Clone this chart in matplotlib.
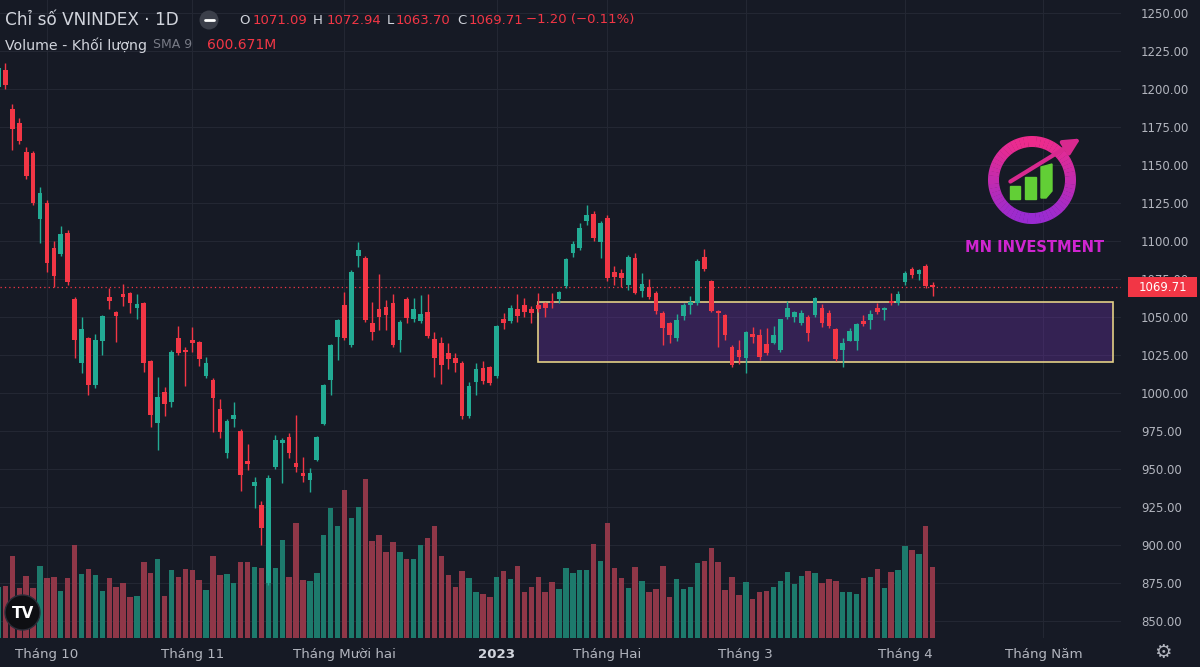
import numpy as np
import matplotlib.pyplot as plt
from matplotlib.patches import Rectangle, Circle, Wedge, Polygon
from matplotlib.transforms import Affine2D, blended_transform_factory

# OHLC theo phiên (22/09/2022 -> 07/04/2023)
opens = [1201, 1212.5, 1186.8, 1177.6, 1158.6, 1158, 1114.5, 1125, 1095.4, 1091.4,
         1105.3, 1061.8, 1019.7, 1036, 1005, 1034.2, 1063.2, 1053.3, 1065.1, 1065.8,
         1055.9, 1059.2, 1021, 980.3, 1000.7, 994, 1036, 1028, 1035, 1033.6,
         1011.2, 1008.6, 989.5, 960.5, 982.9, 975, 955.3, 939, 926.3, 875,
         951.5, 967, 971, 954, 947.6, 942.8, 955.9, 979.6, 1008.6, 1037,
         1057.9, 1031.6, 1090, 1089, 1046, 1055.3, 1056.6, 1059.2, 1034.9, 1061.8,
         1048.7, 1047.4, 1053.3, 1035.5, 1033, 1026.3, 1023, 1019.7, 984.9, 1007.5,
         1016.4, 1017.3, 1011, 1048.7, 1047.4, 1055.3, 1057.9, 1055.3, 1057.9, 1059.2,
         1060.5, 1061.8, 1070.4, 1092, 1095.4, 1113, 1117.8, 1099.5, 1115, 1079.6,
         1078.9, 1071, 1088.8, 1067.1, 1069.7, 1066, 1052.6, 1046, 1036.2, 1050.7,
         1058, 1059, 1089.5, 1073.7, 1054, 1051.3, 1030, 1028.3, 1023, 1038.8,
         1038.2, 1032.2, 1033, 1028.3, 1050, 1050, 1046, 1050, 1051.3, 1056,
         1052.6, 1042, 1028.3, 1034.2, 1034, 1047.4, 1048, 1056, 1054.6, 1060.5,
         1059, 1073, 1081.6, 1078, 1083.6, 1071.09]
highs = [1217, 1217, 1190, 1181, 1162, 1159, 1135.5, 1127, 1100, 1110,
         1107, 1063, 1050, 1037, 1039, 1051, 1069, 1054, 1072, 1066.5,
         1065, 1060, 1022, 1010.5, 1004, 1028, 1044, 1030, 1043.4, 1034.5,
         1024, 1010, 996, 983, 994, 976, 966.4, 945, 929, 946,
         972.4, 970.4, 973.7, 985.5, 958, 950.7, 972, 1006, 1032, 1049,
         1066.6, 1081, 1099.5, 1090, 1060, 1078, 1061, 1065, 1048, 1063,
         1062.5, 1064.5, 1065, 1040, 1037, 1033, 1026, 1021, 1007.5, 1020,
         1021, 1018, 1045, 1052.6, 1058, 1065, 1062.5, 1057.2, 1065.8, 1060,
         1065.8, 1067, 1089, 1100, 1112, 1124, 1120, 1113, 1117, 1083.6,
         1081.6, 1091, 1092, 1079, 1075, 1067, 1054, 1047, 1052, 1059,
         1064, 1088, 1095, 1074.5, 1054.5, 1052, 1031.6, 1035, 1041, 1043.4,
         1042, 1042.8, 1044, 1049, 1060.5, 1054, 1054.6, 1051, 1063, 1058.6,
         1054.6, 1043, 1036, 1042.8, 1046, 1051.3, 1054.6, 1059, 1056.5, 1065.8,
         1067, 1080, 1083, 1081.6, 1085, 1072.94]
lows = [1199, 1200, 1160, 1164, 1141, 1124, 1098.7, 1079.6, 1069.7, 1090,
        1071, 1023, 1013, 999, 1003, 1025, 1055, 1033.6, 1057, 1052.6,
        1048.7, 1013.8, 977.6, 962.5, 985, 991, 1025, 1004.6, 1027, 1018,
        1010, 974.3, 970.4, 957, 977.6, 935.5, 949.3, 924.3, 900, 874,
        950, 940.8, 957, 948, 941.5, 935, 955, 979, 998.7, 1021.7,
        1035, 1030, 1083, 1047, 1035, 1041.4, 1041.4, 1030, 1027, 1046,
        1047, 1046, 1036, 1010.5, 1006, 1016, 1014, 983, 983.6, 998.7,
        1006, 1005, 1010, 1042, 1046, 1046.7, 1050, 1046, 1053, 1050,
        1056, 1059, 1069, 1089.5, 1094, 1110.5, 1100, 1088.8, 1074, 1071,
        1069.7, 1067.8, 1065, 1063.2, 1062, 1052, 1031.6, 1032.7, 1034, 1048,
        1052, 1058, 1080, 1053, 1030.5, 1035, 1017, 1019, 1013, 1033,
        1022, 1025, 1032, 1027, 1049, 1046.7, 1045, 1034.4, 1050, 1043.4,
        1043, 1021, 1017, 1034, 1028, 1044, 1042, 1052, 1048, 1058,
        1058, 1071, 1075.7, 1074.3, 1069, 1063.70]
closes = [1214, 1202.6, 1173.7, 1165.8, 1142.8, 1125, 1131.6, 1085.5, 1077, 1104.6,
          1073, 1034.9, 1042, 1005, 1034.9, 1050.7, 1060.5, 1050.7, 1063.2, 1059.2,
          1058.6, 1019.7, 985.5, 997.4, 992.8, 1027, 1026.3, 1027, 1033, 1022.4,
          1019.7, 996.7, 974.3, 981.6, 985.5, 946, 953.3, 941.4, 911.2, 944,
          969, 969, 960.5, 951.3, 945.4, 947.4, 971, 1005.3, 1031.6, 1048,
          1036.2, 1079.6, 1094, 1048, 1040.3, 1050, 1051.3, 1031.6, 1046.7, 1049.3,
          1055.3, 1052, 1037.5, 1023, 1018.4, 1022.4, 1020, 984.9, 1004.6, 1015.8,
          1008, 1006.4, 1044, 1046, 1056, 1050.7, 1053.3, 1052.6, 1055, 1056,
          1059, 1066.6, 1088, 1098, 1108.5, 1117, 1102, 1112, 1075.6, 1076.3,
          1075.7, 1089.7, 1065.8, 1072, 1063.2, 1054, 1042.8, 1038.2, 1048, 1057.9,
          1060, 1086.8, 1081.6, 1054, 1052.6, 1038, 1018.4, 1023.7, 1040.3, 1036.8,
          1023.7, 1026.3, 1038.2, 1048.7, 1055.9, 1053.3, 1052.6, 1039.5, 1062.5, 1046,
          1044, 1022.4, 1033, 1040.8, 1045.4, 1045.4, 1052, 1053.3, 1056, 1059,
          1065, 1079, 1077.6, 1080.9, 1070.4, 1069.71]
# Khối lượng (triệu cp)
volumes = [434, 442, 697, 425, 527, 425, 612, 510, 519, 400,
           510, 791, 544, 587, 536, 400, 510, 434, 468, 349,
           357, 646, 553, 672, 357, 578, 519, 587, 578, 493,
           408, 697, 536, 544, 468, 646, 646, 604, 595, 808,
           592, 836, 521, 978, 493, 487, 553, 876, 1102, 955,
           1258, 1017, 1111, 1352, 827, 876, 728, 813, 734, 672,
           672, 791, 850, 955, 700, 538, 431, 572, 507, 394,
           374, 349, 519, 570, 502, 612, 391, 434, 519, 391,
           476, 417, 595, 553, 578, 578, 799, 655, 978, 595,
           510, 425, 604, 485, 391, 417, 612, 349, 502, 417,
           434, 638, 655, 765, 646, 408, 519, 366, 476, 332,
           391, 400, 434, 485, 561, 459, 527, 570, 553, 468,
           502, 485, 391, 391, 374, 510, 519, 587, 425, 561,
           578, 782, 748, 714, 952, 604]

month_pos = [7, 28, 50, 72, 88, 108, 131, 151]
month_labels = ['Tháng 10', 'Tháng 11', 'Tháng Mười hai', '2023',
                'Tháng Hai', 'Tháng 3', 'Tháng 4', 'Tháng Năm']
price_ticks = [850, 875, 900, 925, 950, 975, 1000, 1025, 1050, 1075,
               1100, 1125, 1150, 1175, 1200, 1225, 1250]

# vùng tích lũy
zone_low, zone_high = 1020.4, 1059.9
zone_start, zone_end = 78, 161

bg = '#161a25'
up, down = '#22ab94', '#f23645'
vol_up, vol_down = '#1d7a6c', '#8f3748'
txt = '#d1d4dc'
tick_c = '#b2b5be'

o = np.array(opens)
h = np.array(highs)
l = np.array(lows)
c = np.array(closes)
x = np.arange(len(c))
rising = c >= o

fig = plt.figure(figsize=(12, 6.67), dpi=100, facecolor=bg)
ax = fig.add_axes([0, 29 / 667, 1121 / 1200, 638 / 667], facecolor=bg)

# volume ve trong cung truc, thang do rieng
vol_top = 5423
vtrans = blended_transform_factory(ax.transData, Affine2D().scale(1, 1 / vol_top) + ax.transAxes)
ax.bar(x, volumes, width=0.78, color=np.where(rising, vol_up, vol_down),
       transform=vtrans, zorder=1)

# vung hop
ax.add_patch(Rectangle((zone_start, zone_low), zone_end - zone_start, zone_high - zone_low,
                       facecolor=(0.45, 0.2, 0.7, 0.33), edgecolor='#e3cf86', lw=1.2, zorder=2))

# nen
cols = np.where(rising, up, down)
ax.vlines(x, l, h, colors=cols, lw=1, zorder=3)
ax.bar(x, np.maximum(np.abs(c - o), 0.7), bottom=np.minimum(o, c), width=0.68,
       color=cols, zorder=4)

ax.axhline(c[-1], color=down, lw=0.9, ls=(0, (1, 2.5)), zorder=2.5)

ax.set_xlim(1.5 / 6.92, 1122.5 / 6.92)
ax.set_ylim(838.82, 1258.55)
ax.set_yticks(price_ticks)
ax.set_yticklabels([f'{v:.2f}' for v in price_ticks])
ax.yaxis.tick_right()
ax.tick_params(axis='y', length=0, pad=14.4, labelsize=8.5, labelcolor=tick_c)
ax.set_xticks(month_pos)
ax.set_xticklabels(month_labels)
ax.tick_params(axis='x', length=0, pad=7, labelsize=9.6, labelcolor=tick_c)
lab23 = ax.get_xticklabels()[3]
lab23.set_fontweight('bold')
lab23.set_color(txt)
ax.grid(True, color='#232733', lw=0.8)
ax.set_axisbelow(True)
for s in ax.spines.values():
    s.set_visible(False)

# nhan gia cuoi (che mot phan nhan 1075.00 nhu anh goc)
tr = blended_transform_factory(ax.transAxes, ax.transData)
ax.add_patch(Rectangle((1128 / 1121, c[-1] - 10 / 1.52), 69 / 1121, 20 / 1.52, transform=tr,
                       facecolor=down, clip_on=False, zorder=6))
ax.text(1162.5 / 1121, c[-1], f'{c[-1]:.2f}', transform=tr, ha='center', va='center',
        color='white', fontsize=8.5, zorder=7, clip_on=False)

# lop phu theo pixel
ov = fig.add_axes([0, 0, 1, 1])
ov.set_xlim(0, 1200)
ov.set_ylim(667, 0)
ov.axis('off')
ov.patch.set_alpha(0)

ov.text(5, 20, 'Chỉ số VNINDEX · 1D', color=txt, fontsize=12.2, va='center')
ov.add_patch(Circle((209, 20), 9.5, facecolor='#3b3f4a'))
ov.plot([204.5, 213.5], [20, 20], color='white', lw=2, solid_capstyle='round')
ohlc = [('O', 239, '1071.09', 253), ('H', 313, '1072.94', 327),
        ('L', 387, '1063.70', 396), ('C', 457, '1069.71', 469)]
for k, kx, val, vx in ohlc:
    ov.text(kx, 20, k, color=txt, fontsize=9.5, va='center')
    ov.text(vx, 20, val, color=down, fontsize=9.5, va='center')
ov.text(526, 20, '−1.20 (−0.11%)', color=down, fontsize=9.5, va='center')
ov.text(5, 45, 'Volume - Khối lượng', color=txt, fontsize=10.2, va='center')
ov.text(153, 45, 'SMA 9', color='#787b86', fontsize=9, va='center')
ov.text(207, 45, '600.671M', color=down, fontsize=10, va='center')

# logo MN INVESTMENT
cx, cy, r = 1032, 180, 44
pink = np.array([0.93, 0.17, 0.55])
purple = np.array([0.60, 0.17, 0.82])
for a in range(0, 360, 6):
    t = (1 - np.sin(np.radians(a + 3))) / 2
    ov.add_patch(Wedge((cx, cy), r, a, a + 6.5, width=11, color=purple + (pink - purple) * t, lw=0))
ov.add_patch(Rectangle((1010, 186), 10, 13, color='#62cf36'))
ov.add_patch(Rectangle((1025, 177), 11, 22, color='#62cf36'))
ov.add_patch(Polygon([(1041, 198), (1041, 167), (1052, 164), (1052, 191), (1046, 198)],
                     closed=True, color='#62cf36'))
ov.annotate('', xy=(1083, 137), xytext=(1008, 183),
            arrowprops=dict(arrowstyle='-|>', color='#d8298f', lw=3, mutation_scale=24))
ov.text(1035, 248, 'MN INVESTMENT', color='#cf25d0', fontsize=10.5, fontweight='bold',
        ha='center', va='center')

# logo TV va banh rang
ov.add_patch(Circle((22.5, 612.5), 17.5, facecolor='#0e0f13', edgecolor='#2a2e39', lw=1))
ov.text(22.5, 613, 'TV', color='white', fontsize=11, fontweight='bold', ha='center', va='center')
ov.text(1163, 652, '⚙', color=tick_c, fontsize=14, ha='center', va='center')

fig.savefig('out.png', dpi=100, facecolor=bg)
